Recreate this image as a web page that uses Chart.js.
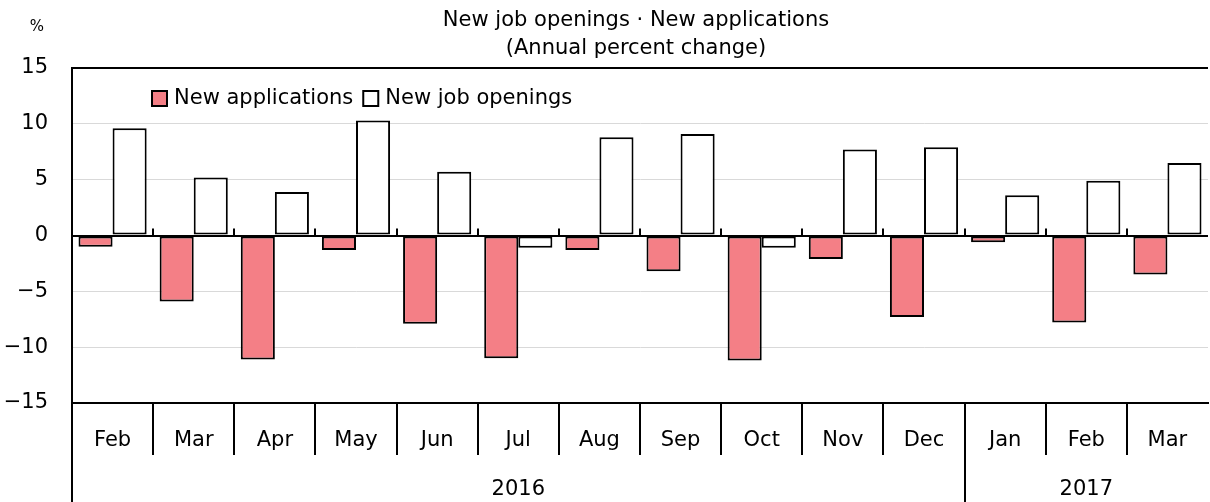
<!DOCTYPE html>
<html>
<head>
<meta charset="utf-8">
<script src="https://cdn.jsdelivr.net/npm/chart.js@4.4.1/dist/chart.umd.min.js"></script>
<style>
html, body { margin: 0; padding: 0; background: #fff; }
#wrap { width: 1210px; height: 502px; position: relative; }
</style>
</head>
<body>
<div id="wrap"><canvas id="chart"></canvas></div>
<script>
// categories
const months = ['Feb', 'Mar', 'Apr', 'May', 'Jun', 'Jul', 'Aug', 'Sep', 'Oct', 'Nov', 'Dec', 'Jan', 'Feb', 'Mar'];
const monthYears = ['2016', '2016', '2016', '2016', '2016', '2016', '2016', '2016', '2016', '2016', '2016', '2017', '2017', '2017'];

// annual percent change
const newApplications = [-1.0, -5.9, -11.1, -1.3, -7.9, -11.0, -1.3, -3.2, -11.2, -2.1, -7.3, -0.6, -7.8, -3.5];
const newJobOpenings = [9.6, 5.2, 3.9, 10.3, 5.7, -1.1, 8.8, 9.1, -1.1, 7.7, 7.9, 3.6, 4.9, 6.5];

const titleLines = ['New job openings \u00b7 New applications', '(Annual percent change)'];
const FONT = '"DejaVu Sans", sans-serif';

function fmt(v) {
    return v < 0 ? '\u2212' + Math.abs(v) : String(v);
}

const decorations = {
    id: 'decorations',
    afterDraw(chart) {
        const c = chart.ctx;
        const area = chart.chartArea;
        const x = chart.scales.x;
        const y = chart.scales.y;
        const y0 = y.getPixelForValue(0);
        const H = chart.height;

        c.save();
        c.fillStyle = '#000';
        c.strokeStyle = '#000';

        // title
        c.font = '21px ' + FONT;
        c.textAlign = 'center';
        c.textBaseline = 'middle';
        const cx = (area.left + area.right) / 2 - 4;
        c.fillText(titleLines[0], cx, 21);
        c.fillText(titleLines[1], cx, 49);

        // unit
        c.font = '15px ' + FONT;
        c.fillText('%', 37, 27);

        // legend inside the plot
        c.font = '21px ' + FONT;
        c.textAlign = 'left';
        let lx = 152;
        chart.data.datasets.forEach(ds => {
            c.fillStyle = ds.backgroundColor;
            c.fillRect(lx, 91, 15, 15);
            c.lineWidth = 2;
            c.strokeRect(lx, 91, 15, 15);
            c.fillStyle = '#000';
            c.fillText(ds.label, lx + 22, 99);
            lx += 22 + c.measureText(ds.label).width + 10;
        });

        // boundaries between categories
        c.lineWidth = 2;
        for (let i = 1; i < months.length; i++) {
            const bx = Math.round((x.getPixelForValue(i - 1) + x.getPixelForValue(i)) / 2);
            c.beginPath();
            c.moveTo(bx, y0 - 7);
            c.lineTo(bx, y0);
            c.stroke();
            const yearBreak = monthYears[i] !== monthYears[i - 1];
            c.beginPath();
            c.moveTo(bx, area.bottom);
            c.lineTo(bx, yearBreak ? H : area.bottom + 52);
            c.stroke();
        }
        // left axis continues under the labels
        c.beginPath();
        c.moveTo(area.left, area.bottom);
        c.lineTo(area.left, H);
        c.stroke();

        // year labels
        c.font = '21px ' + FONT;
        c.textAlign = 'center';
        let start = 0;
        for (let i = 1; i <= months.length; i++) {
            if (i === months.length || monthYears[i] !== monthYears[start]) {
                const half = (x.getPixelForValue(1) - x.getPixelForValue(0)) / 2;
                const left = x.getPixelForValue(start) - half;
                const right = x.getPixelForValue(i - 1) + half;
                c.fillText(monthYears[start], (left + right) / 2, 490);
                start = i;
            }
        }
        c.restore();
    }
};

const ctx = document.getElementById('chart').getContext('2d');
new Chart(ctx, {
    type: 'bar',
    data: {
        labels: months,
        datasets: [
            {
                label: 'New applications',
                data: newApplications,
                backgroundColor: '#f47f86',
                borderColor: '#000',
                borderWidth: 2,
                borderSkipped: false
            },
            {
                label: 'New job openings',
                data: newJobOpenings,
                backgroundColor: '#ffffff',
                borderColor: '#000',
                borderWidth: 2,
                borderSkipped: false
            }
        ]
    },
    options: {
        responsive: true,
        maintainAspectRatio: false,
        animation: false,
        layout: { padding: { top: 68, right: 2, left: 0, bottom: 0 } },
        datasets: { bar: { categoryPercentage: 0.84, barPercentage: 1.0 } },
        plugins: {
            legend: { display: false },
            title: { display: false },
            tooltip: { enabled: false }
        },
        scales: {
            x: {
                grid: { display: false },
                border: { display: true, color: '#000', width: 2 },
                ticks: {
                    color: '#000',
                    font: { family: FONT, size: 21 },
                    padding: 17,
                    maxRotation: 0,
                    autoSkip: false
                },
                afterFit(scale) { scale.height = 99; }
            },
            y: {
                min: -15,
                max: 15,
                ticks: {
                    stepSize: 5,
                    color: '#000',
                    font: { family: FONT, size: 21 },
                    padding: 24,
                    callback: v => fmt(v)
                },
                grid: {
                    drawTicks: false,
                    color: c => (c.tick && (c.tick.value === 0 || c.tick.value === 15 || c.tick.value === -15)) ? '#000' : '#d9d9d9',
                    lineWidth: c => (c.tick && (c.tick.value === 0 || c.tick.value === 15)) ? 2 : 1
                },
                border: { display: true, color: '#000', width: 2 },
                afterFit(scale) { scale.width = 72; }
            }
        }
    },
    plugins: [decorations]
});
</script>
</body>
</html>
